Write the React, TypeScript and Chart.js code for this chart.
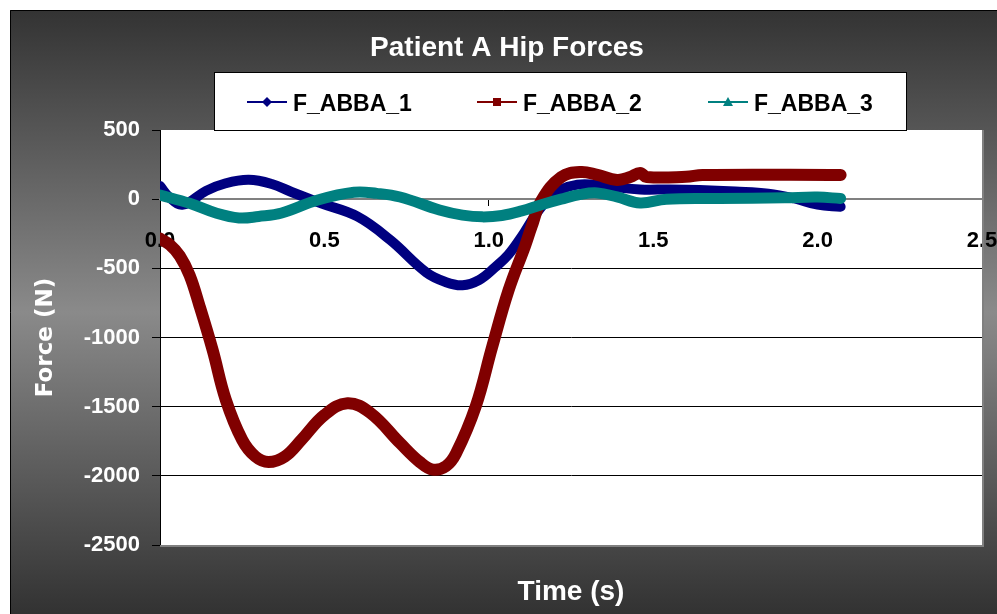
import React, { useEffect, useRef } from "react";
import { Chart, registerables } from "chart.js";

Chart.register(...registerables);

const TITLE = "Patient A Hip Forces";
const X_TITLE = "Time (s)";
const Y_TITLE = "Force (N)";
const SERIES_NAMES = ["F_ABBA_1", "F_ABBA_2", "F_ABBA_3"];
const SERIES_COLORS = ["#000080", "#800000", "#008080"];
const X_MIN = 0;
const X_MAX = 2.5;
const X_STEP = 0.5;
const Y_MIN = -2500;
const Y_MAX = 500;
const Y_STEP = 500;

// F_ABBA_1
const T1 = [0, 0.03, 0.07, 0.14, 0.2, 0.27, 0.34, 0.4, 0.49, 0.6, 0.7, 0.81, 0.87, 0.92, 0.97, 1.02, 1.06, 1.1, 1.14, 1.18, 1.22, 1.27, 1.32, 1.38, 1.46, 1.55, 1.64, 1.75, 1.85, 1.93, 2.0, 2.07];
const F1 = [95, 10, -40, 60, 115, 140, 110, 52, -30, -125, -295, -530, -600, -622, -585, -490, -400, -270, -120, 0, 70, 105, 105, 88, 70, 70, 66, 55, 40, 5, -40, -55];

// F_ABBA_2
const T2 = [0, 0.03, 0.06, 0.09, 0.12, 0.16, 0.2, 0.25, 0.29, 0.33, 0.38, 0.43, 0.5, 0.57, 0.64, 0.73, 0.79, 0.83, 0.87, 0.9, 0.96, 1.01, 1.06, 1.11, 1.13, 1.16, 1.22, 1.28, 1.33, 1.39, 1.43, 1.46, 1.48, 1.6, 1.65, 2.07];
const F2 = [-285, -330, -410, -550, -770, -1090, -1450, -1740, -1860, -1900, -1860, -1740, -1560, -1475, -1546, -1763, -1900, -1955, -1930, -1840, -1500, -1070, -660, -340, -200, -10, 160, 197, 175, 139, 160, 190, 160, 162, 175, 175];

// F_ABBA_3
const T3 = [0, 0.09, 0.17, 0.24, 0.3, 0.37, 0.48, 0.59, 0.66, 0.73, 0.85, 0.92, 0.98, 1.04, 1.1, 1.16, 1.22, 1.28, 1.33, 1.39, 1.46, 1.54, 1.7, 1.9, 2.0, 2.07];
const F3 = [30, -30, -100, -136, -125, -100, -6, 50, 42, 16, -78, -115, -128, -118, -85, -40, 0, 35, 45, 16, -27, 0, 5, 10, 15, 5];

const FONT = '"Liberation Sans", Arial, sans-serif';

function toPoints(t: number[], f: number[]) {
  return t.map((x, i) => ({ x, y: f[i] }));
}

const decorPlugin = {
  id: "decor",
  beforeDraw(chart: any) {
    const { ctx, width, height, chartArea } = chart;
    ctx.save();
    ctx.fillStyle = "#ffffff";
    ctx.fillRect(0, 0, width, height);
    const g = ctx.createLinearGradient(0, 10, 0, height);
    g.addColorStop(0, "#333333");
    g.addColorStop(0.5, "#8a8a8a");
    g.addColorStop(1, "#323232");
    ctx.fillStyle = g;
    ctx.fillRect(10, 10, width - 10, height - 10);
    ctx.strokeStyle = "#000";
    ctx.lineWidth = 1;
    ctx.beginPath();
    ctx.moveTo(10.5, height);
    ctx.lineTo(10.5, 10.5);
    ctx.lineTo(width, 10.5);
    ctx.stroke();
    ctx.fillStyle = "#ffffff";
    ctx.fillRect(chartArea.left, chartArea.top, chartArea.right - chartArea.left, chartArea.bottom - chartArea.top);
    ctx.restore();
  },
  beforeDatasetsDraw(chart: any) {
    const { ctx, chartArea } = chart;
    ctx.save();
    ctx.strokeStyle = "#808080";
    ctx.lineWidth = 2;
    ctx.beginPath();
    ctx.moveTo(chartArea.left, chartArea.bottom + 1);
    ctx.lineTo(chartArea.right + 1, chartArea.bottom + 1);
    ctx.lineTo(chartArea.right + 1, chartArea.top);
    ctx.stroke();
    ctx.restore();
  },
  afterDraw(chart: any) {
    const { ctx, chartArea } = chart;
    ctx.save();
    ctx.fillStyle = "#ffffff";
    ctx.textAlign = "center";
    ctx.textBaseline = "alphabetic";
    ctx.font = `bold 28px ${FONT}`;
    ctx.fillText(TITLE, 507, 56);
    ctx.font = `bold 28px ${FONT}`;
    ctx.fillText(X_TITLE, (chartArea.left + chartArea.right) / 2, 600);
    ctx.save();
    ctx.translate(52, (chartArea.top + chartArea.bottom) / 2);
    ctx.rotate(-Math.PI / 2);
    ctx.font = `bold 23px "DejaVu Sans", Verdana, sans-serif`;
    ctx.fillText(Y_TITLE, 0, 0);
    ctx.restore();

    const lx = 214, ly = 72, lw = 693, lh = 59;
    ctx.fillStyle = "#ffffff";
    ctx.fillRect(lx, ly, lw, lh);
    ctx.strokeStyle = "#000";
    ctx.lineWidth = 1;
    ctx.strokeRect(lx + 0.5, ly + 0.5, lw - 1, lh - 1);
    const itemX = [247, 477, 708];
    const cy = 102;
    chart.data.datasets.forEach((ds: any, i: number) => {
      const x0 = itemX[i];
      const color = SERIES_COLORS[i];
      ctx.strokeStyle = color;
      ctx.lineWidth = 2;
      ctx.beginPath();
      ctx.moveTo(x0, cy);
      ctx.lineTo(x0 + 40, cy);
      ctx.stroke();
      const mx = x0 + 20;
      ctx.fillStyle = color;
      ctx.beginPath();
      if (i === 0) {
        ctx.moveTo(mx, cy - 5);
        ctx.lineTo(mx + 5, cy);
        ctx.lineTo(mx, cy + 5);
        ctx.lineTo(mx - 5, cy);
        ctx.closePath();
      } else if (i === 1) {
        ctx.rect(mx - 4, cy - 4, 8, 8);
      } else {
        ctx.moveTo(mx, cy - 5);
        ctx.lineTo(mx + 5, cy + 4);
        ctx.lineTo(mx - 5, cy + 4);
        ctx.closePath();
      }
      ctx.fill();
      ctx.fillStyle = "#000";
      ctx.textAlign = "left";
      ctx.textBaseline = "alphabetic";
      ctx.font = `bold 23px ${FONT}`;
      ctx.fillText(ds.label, x0 + 46, cy + 9);
    });
    ctx.restore();
  },
};

export default function App() {
  const ref = useRef<HTMLCanvasElement | null>(null);
  useEffect(() => {
    if (!ref.current) return;
    const common = { pointRadius: 0, tension: 0.4, fill: false, borderCapStyle: "round", borderJoinStyle: "round" };
    const chart = new Chart(ref.current, {
      type: "line",
      data: {
        datasets: [
          { ...common, label: SERIES_NAMES[0], data: toPoints(T1, F1), borderColor: SERIES_COLORS[0], backgroundColor: SERIES_COLORS[0], borderWidth: 10, order: 2 },
          { ...common, label: SERIES_NAMES[1], data: toPoints(T2, F2), borderColor: SERIES_COLORS[1], backgroundColor: SERIES_COLORS[1], borderWidth: 12, order: 1 },
          { ...common, label: SERIES_NAMES[2], data: toPoints(T3, F3), borderColor: SERIES_COLORS[2], backgroundColor: SERIES_COLORS[2], borderWidth: 11, order: 0 },
        ],
      },
      options: {
        animation: false,
        responsive: false,
        maintainAspectRatio: false,
        layout: { padding: { left: 10, top: 130, right: 15, bottom: 69 } },
        plugins: { legend: { display: false }, title: { display: false }, tooltip: { enabled: false } },
        scales: {
          x: {
            type: "linear",
            position: { y: 0 } as any,
            min: X_MIN,
            max: X_MAX,
            grid: { drawOnChartArea: false, drawTicks: true, tickLength: 6, tickColor: "#000", lineWidth: 1 },
            border: { color: "#808080", width: 2 },
            ticks: {
              stepSize: X_STEP,
              autoSkip: false,
              maxRotation: 0,
              padding: 23,
              color: "#000",
              font: { family: FONT, size: 22, weight: "bold" },
              callback: (v: any) => Number(v).toFixed(1),
            },
            afterFit: (s: any) => { s.paddingLeft = 0; s.paddingRight = 0; },
          },
          y: {
            type: "linear",
            position: "left",
            min: Y_MIN,
            max: Y_MAX,
            grid: {
              drawTicks: true,
              tickLength: 8,
              tickColor: "#000",
              lineWidth: 1,
              color: (c: any) => {
                const v = c.tick ? c.tick.value : null;
                if (v === Y_MAX) return "rgba(0,0,0,0)";
                if (v === 0 || v === Y_MIN) return "#808080";
                return "#000";
              },
            },
            border: { color: "#000", width: 1 },
            ticks: {
              stepSize: Y_STEP,
              padding: 12,
              color: "#ffffff",
              font: { family: FONT, size: 22, weight: "bold" },
              callback: (v: any) => String(v),
            },
            afterFit: (s: any) => { s.width = 150; },
          },
        },
      } as any,
      plugins: [decorPlugin],
    });
    return () => chart.destroy();
  }, []);
  return (
    <div style={{ position: "fixed", left: 0, top: 0, width: 997, height: 614 }}>
      <canvas ref={ref} width={997} height={614} style={{ display: "block", width: 997, height: 614 }} />
    </div>
  );
}
